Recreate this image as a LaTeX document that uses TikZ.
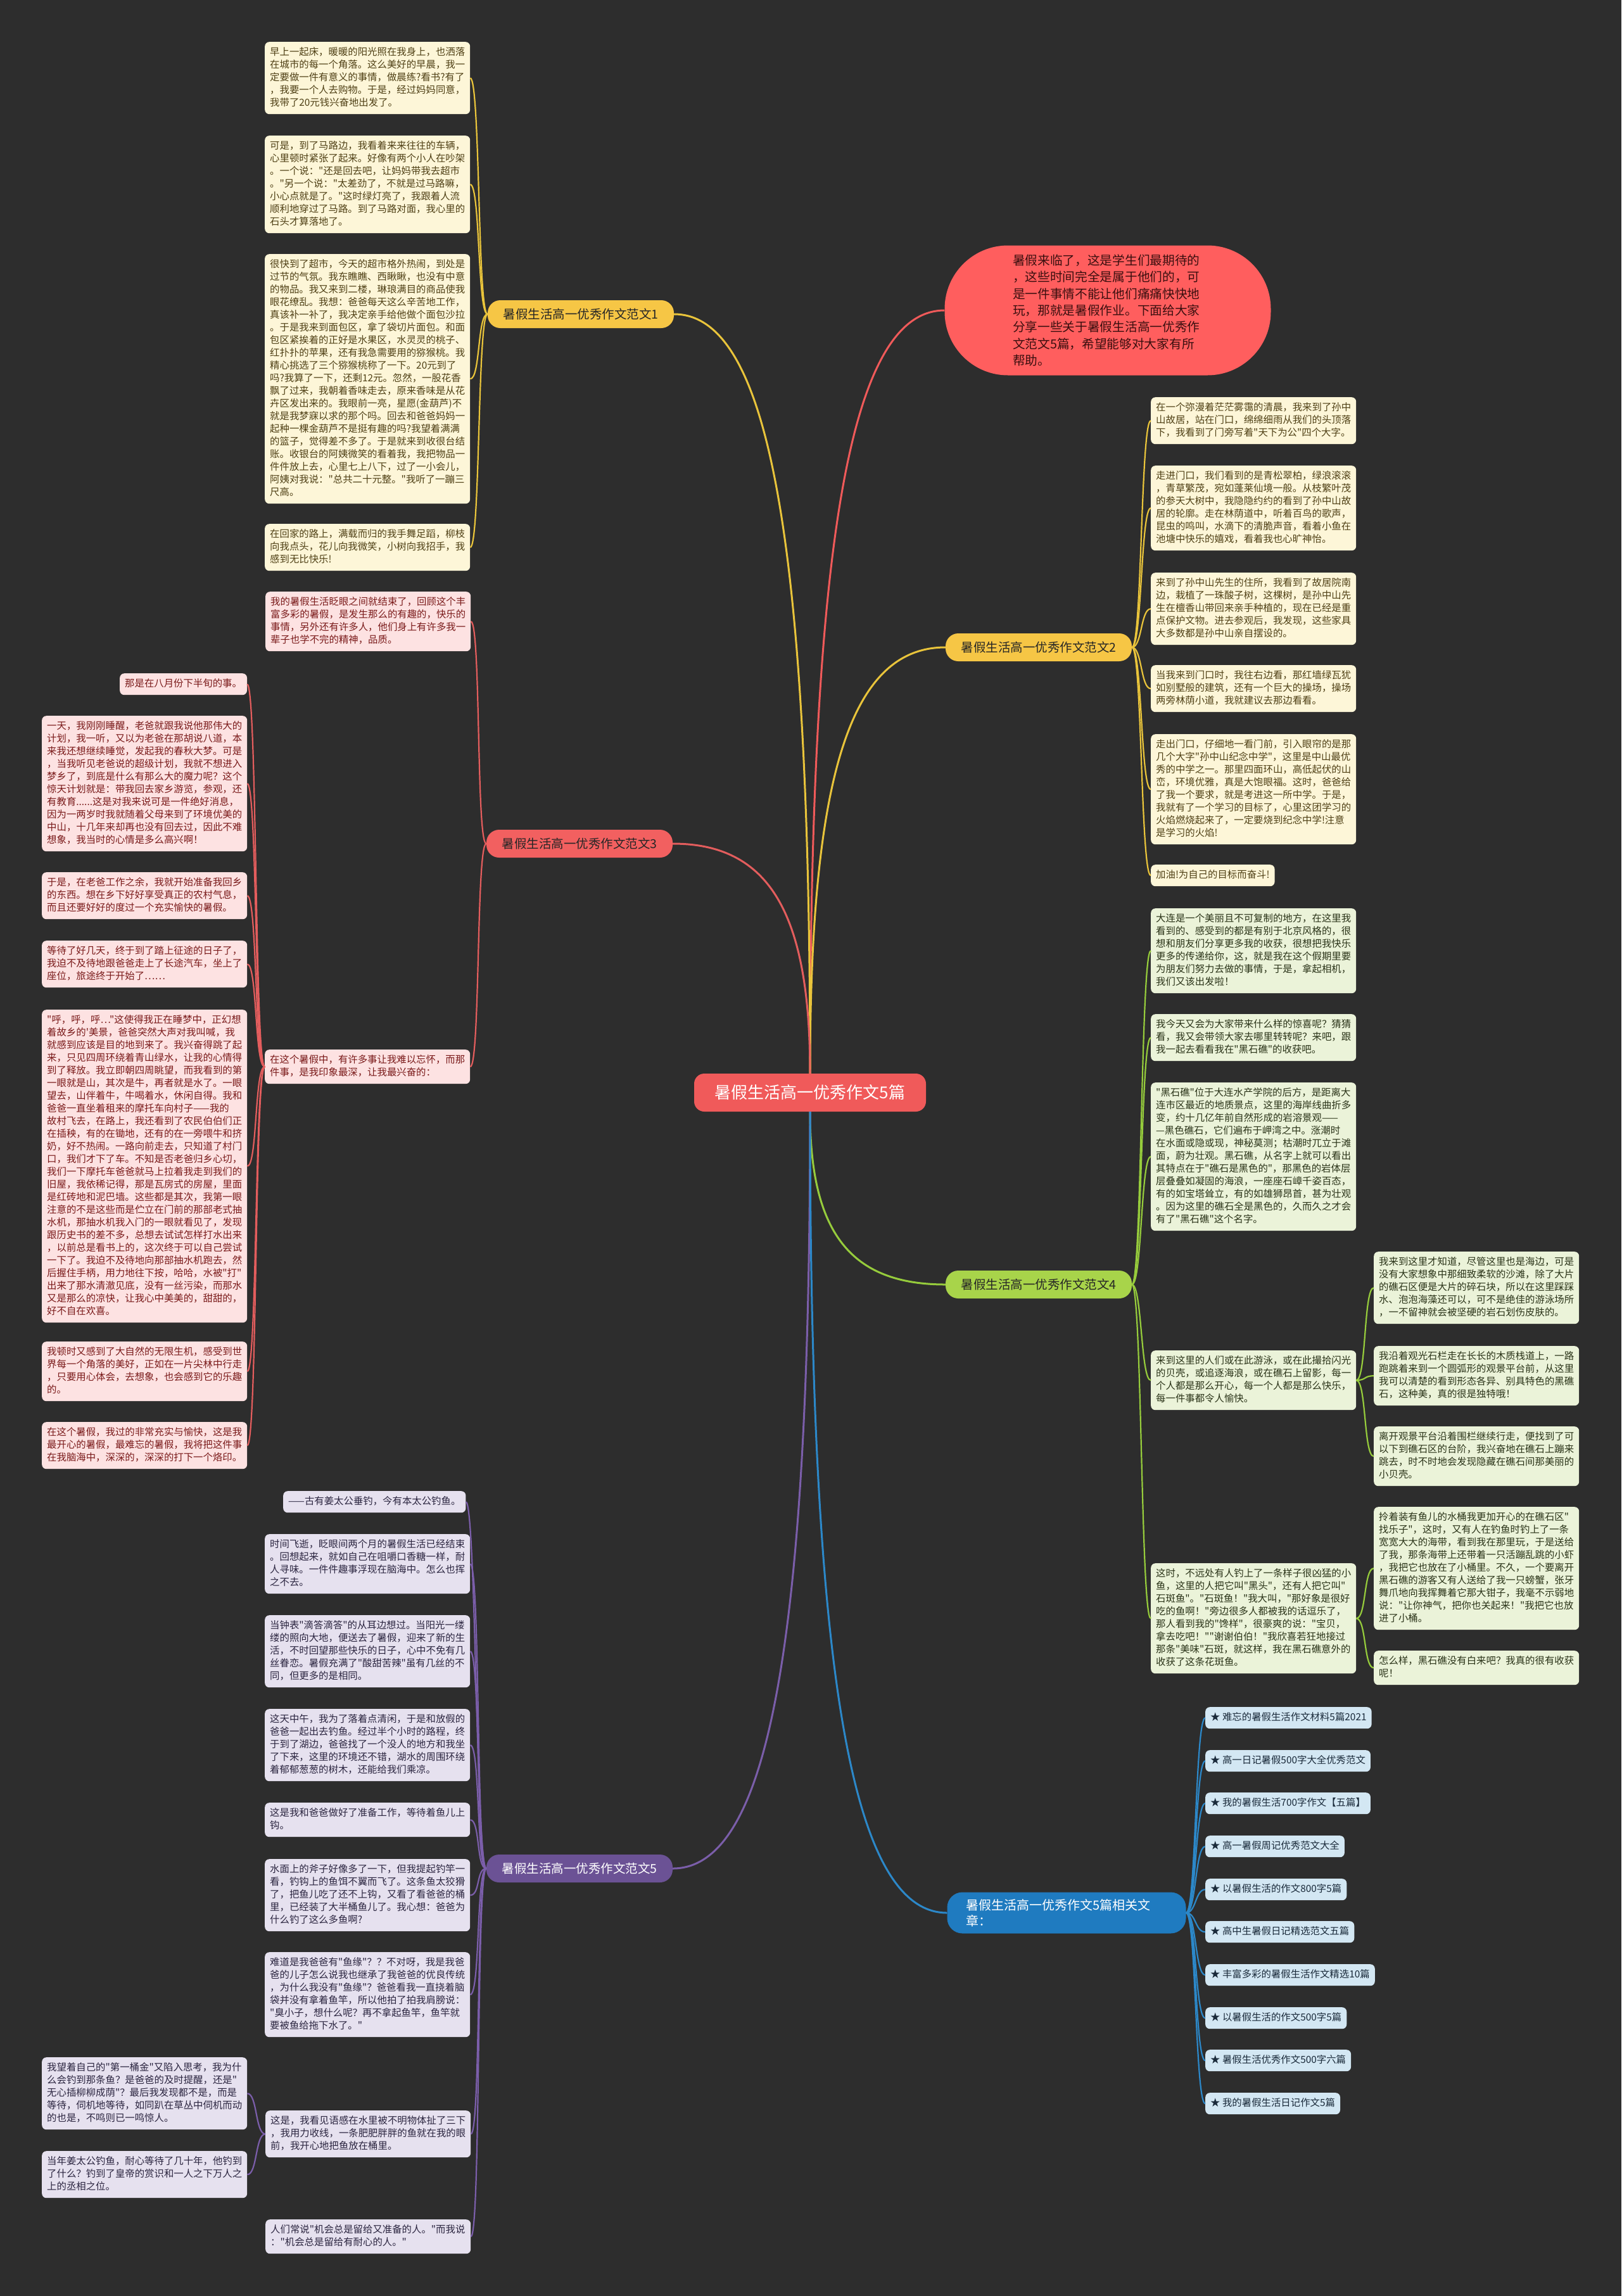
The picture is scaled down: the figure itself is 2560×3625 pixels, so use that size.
\documentclass[tikz,border=0pt]{standalone}
\usepackage{fontspec}
\newfontfamily\cjk{Noto Sans CJK SC}
\usetikzlibrary{calc}
\definecolor{bg}{HTML}{2D2D2D}
\definecolor{ctrFill}{HTML}{F05A5A}
\definecolor{introFill}{HTML}{FF5E5E}
\definecolor{introText}{HTML}{3A0F0F}
\definecolor{ylMain}{HTML}{F6C645}
\definecolor{ylLeaf}{HTML}{FDF6D8}
\definecolor{ylText}{HTML}{4F4015}
\definecolor{ylLine}{HTML}{E9C43B}
\definecolor{rdMain}{HTML}{F26060}
\definecolor{rdLeaf}{HTML}{FDE2E2}
\definecolor{rdText}{HTML}{7A1A1A}
\definecolor{rdLine}{HTML}{E35D5D}
\definecolor{grMain}{HTML}{A8D44A}
\definecolor{grLeaf}{HTML}{EBF3D9}
\definecolor{grText}{HTML}{2A3318}
\definecolor{grLine}{HTML}{96CC3C}
\definecolor{puMain}{HTML}{6B5295}
\definecolor{puLeaf}{HTML}{E6E1EF}
\definecolor{puText}{HTML}{2B2540}
\definecolor{puLine}{HTML}{7B5EAA}
\definecolor{blMain}{HTML}{1F7BC0}
\definecolor{blLeaf}{HTML}{D3E7F3}
\definecolor{blText}{HTML}{1A2A3A}
\definecolor{blLine}{HTML}{2C88C9}
\newcommand\sst{\rule[-5.5pt]{0pt}{20pt}}
\newcommand\LL[5]{\node[#4,anchor=north west] (#1) at (#2,#3) {\sst#5\sst};}
\newcommand\cnL[3]{\draw[#3] (#1.west) .. controls +(-16,0) and +(16,0) .. (#2.east);}
\newcommand\cnR[3]{\draw[#3] (#1.east) .. controls +(16,0) and +(-16,0) .. (#2.west);}
\newcommand\ctrC[3]{\draw[#3] (#1) .. controls ($(#1)!0.7!(#1 |- #2)$) and ($(#2)!0.7!(#1 |- #2)$) .. (#2);}
\begin{document}
\begin{tikzpicture}[x=1pt,y=-1pt,
  lf/.style={rounded corners=7pt, inner xsep=8pt, inner ysep=7pt, align=left, font=\cjk\fontsize{15.4}{20}\selectfont},
  wide/.style={text width=308pt},
  yl/.style={lf, fill=ylLeaf, text=ylText},
  rd/.style={lf, fill=rdLeaf, text=rdText},
  gr/.style={lf, fill=grLeaf, text=grText},
  pu/.style={lf, fill=puLeaf, text=puText},
  bl/.style={lf, fill=blLeaf, text=blText},
  branch/.style={rounded corners=20pt, minimum width=294pt, minimum height=44pt, inner sep=0pt, font=\cjk\fontsize{19.5}{24}\selectfont},
  lnk/.style={line width=2.2pt},
  mlnk/.style={line width=3pt},
]
\useasboundingbox (0,0) rectangle (2560,3625);
\fill[bg] (0,0) rectangle (2560,3625);

% center
\node[fill=ctrFill, text=white, rounded corners=16pt, minimum width=366pt, minimum height=60pt, inner sep=0pt, font=\cjk\fontsize{26}{30}\selectfont] (c) at (1279,1725) {暑假生活高一优秀作文5篇};

% intro
\node[fill=introFill, text=introText, rounded corners=100pt, minimum width=515pt, minimum height=205pt, text width=300pt, align=left, inner sep=0pt, font=\cjk\fontsize{19.7}{26.3}\selectfont] (intro) at (1749,490) {暑假来临了，这是学生们最期待的\\，这些时间完全是属于他们的，可\\是一件事情不能让他们痛痛快快地\\玩，那就是暑假作业。下面给大家\\分享一些关于暑假生活高一优秀作\\文范文5篇，希望能够对大家有所\\帮助。};

% branches
\node[branch, fill=ylMain, text=black!85] (b1) at (917,496) {暑假生活高一优秀作文范文1};
\node[branch, fill=ylMain, text=black!85] (b2) at (1640,1022) {暑假生活高一优秀作文范文2};
\node[branch, fill=rdMain, text=black!85] (b3) at (915,1332) {暑假生活高一优秀作文范文3};
\node[branch, fill=grMain, text=black!85] (b4) at (1640,2028) {暑假生活高一优秀作文范文4};
\node[branch, fill=puMain, text=white] (b5) at (915,2950) {暑假生活高一优秀作文范文5};
\node[fill=blMain, text=white, rounded corners=24pt, minimum width=377pt, minimum height=65pt, text width=317pt, inner xsep=30pt, inner ysep=6pt, align=left, font=\cjk\fontsize{20}{25}\selectfont] (rel) at (1684,3020) {暑假生活高一优秀作文5篇相关文\\章：};

% branch 1
\LL{a1}{418}{66}{yl,wide}{早上一起床，暖暖的阳光照在我身上，也洒落\\在城市的每一个角落。这么美好的早晨，我一\\定要做一件有意义的事情，做晨练?看书?有了\\，我要一个人去购物。于是，经过妈妈同意，\\我带了20元钱兴奋地出发了。}
\LL{a2}{418}{214}{yl,wide}{可是，到了马路边，我看着来来往往的车辆，\\心里顿时紧张了起来。好像有两个小人在吵架\\。一个说："还是回去吧，让妈妈带我去超市\\。"另一个说："太差劲了，不就是过马路嘛，\\小心点就是了。"这时绿灯亮了，我跟着人流\\顺利地穿过了马路。到了马路对面，我心里的\\石头才算落地了。}
\LL{a3}{418}{401}{yl,wide}{很快到了超市，今天的超市格外热闹，到处是\\过节的气氛。我东瞧瞧、西瞅瞅，也没有中意\\的物品。我又来到二楼，琳琅满目的商品使我\\眼花缭乱。我想：爸爸每天这么辛苦地工作，\\真该补一补了，我决定亲手给他做个面包沙拉\\。于是我来到面包区，拿了袋切片面包。和面\\包区紧挨着的正好是水果区，水灵灵的桃子、\\红扑扑的苹果，还有我急需要用的猕猴桃。我\\精心挑选了三个猕猴桃称了一下。20元到了\\吗?我算了一下，还剩12元。忽然，一股花香\\飘了过来，我朝着香味走去，原来香味是从花\\卉区发出来的。我眼前一亮，星愿(金葫芦)不\\就是我梦寐以求的那个吗。回去和爸爸妈妈一\\起种一棵金葫芦不是挺有趣的吗?我望着满满\\的篮子，觉得差不多了。于是就来到收很台结\\账。收银台的阿姨微笑的看着我，我把物品一\\件件放上去，心里七上八下，过了一小会儿，\\阿姨对我说："总共二十元整。"我听了一蹦三\\尺高。}
\LL{a4}{418}{827}{yl,wide}{在回家的路上，满载而归的我手舞足蹈，柳枝\\向我点头，花儿向我微笑，小树向我招手，我\\感到无比快乐!}

% branch 2
\LL{d1}{1817}{627}{yl,wide}{在一个弥漫着茫茫雾霭的清晨，我来到了孙中\\山故居，站在门口，绵绵细雨从我们的头顶落\\下，我看到了门旁写着"天下为公"四个大字。}
\LL{d2}{1817}{735}{yl,wide}{走进门口，我们看到的是青松翠柏，绿浪滚滚\\，青草繁茂，宛如蓬莱仙境一般。从枝繁叶茂\\的参天大树中，我隐隐约约的看到了孙中山故\\居的轮廓。走在林荫道中，听着百鸟的歌声，\\昆虫的鸣叫，水滴下的清脆声音，看着小鱼在\\池塘中快乐的嬉戏，看着我也心旷神怡。}
\LL{d3}{1817}{904}{yl,wide}{来到了孙中山先生的住所，我看到了故居院南\\边，栽植了一珠酸子树，这棵树，是孙中山先\\生在檀香山带回来亲手种植的，现在已经是重\\点保护文物。进去参观后，我发现，这些家具\\大多数都是孙中山亲自摆设的。}
\LL{d4}{1817}{1050}{yl,wide}{当我来到门口时，我往右边看，那红墙绿瓦犹\\如别墅般的建筑，还有一个巨大的操场，操场\\两旁林荫小道，我就建议去那边看看。}
\LL{d5}{1817}{1159}{yl,wide}{走出门口，仔细地一看门前，引入眼帘的是那\\几个大字"孙中山纪念中学"，这里是中山最优\\秀的中学之一。那里四面环山，高低起伏的山\\峦，环境优雅，真是大饱眼福。这时，爸爸给\\了我一个要求，就是考进这一所中学。于是，\\我就有了一个学习的目标了，心里这团学习的\\火焰燃烧起来了，一定要烧到纪念中学!注意\\是学习的火焰!}
\LL{d6}{1817}{1365}{yl}{加油!为自己的目标而奋斗!}

% branch 3
\LL{e1}{419}{934}{rd,wide}{我的暑假生活眨眼之间就结束了，回顾这个丰\\富多彩的暑假，是发生那么的有趣的，快乐的\\事情，另外还有许多人，他们身上有许多我一\\辈子也学不完的精神，品质。}
\LL{e2}{418}{1657}{rd,wide}{在这个暑假中，有许多事让我难以忘怀，而那\\件事，是我印象最深，让我最兴奋的：}
\LL{f1}{189}{1063}{rd}{那是在八月份下半旬的事。}
\LL{f2}{66}{1130}{rd,wide}{一天，我刚刚睡醒，老爸就跟我说他那伟大的\\计划，我一听，又以为老爸在那胡说八道，本\\来我还想继续睡觉，发起我的春秋大梦。可是\\，当我听见老爸说的超级计划，我就不想进入\\梦乡了，到底是什么有那么大的魔力呢？这个\\惊天计划就是：带我回去家乡游览，参观，还\\有教育......这是对我来说可是一件绝好消息，\\因为一两岁时我就随着父母来到了环境优美的\\中山，十几年来却再也没有回去过，因此不难\\想象，我当时的心情是多么高兴啊！}
\LL{f3}{66}{1377}{rd,wide}{于是，在老爸工作之余，我就开始准备我回乡\\的东西。想在乡下好好享受真正的农村气息，\\而且还要好好的度过一个充实愉快的暑假。}
\LL{f4}{66}{1485}{rd,wide}{等待了好几天，终于到了踏上征途的日子了，\\我迫不及待地跟爸爸走上了长途汽车，坐上了\\座位，旅途终于开始了……}
\LL{f5}{66}{1594}{rd,wide}{"呼，呼，呼…"这使得我正在睡梦中，正幻想\\着故乡的'美景，爸爸突然大声对我叫喊，我\\就感到应该是目的地到来了。我兴奋得跳了起\\来，只见四周环绕着青山绿水，让我的心情得\\到了释放。我立即朝四周眺望，而我看到的第\\一眼就是山，其次是牛，再者就是水了。一眼\\望去，山伴着牛，牛喝着水，休闲自得。我和\\爸爸一直坐着租来的摩托车向村子——我的\\故村飞去，在路上，我还看到了农民伯伯们正\\在插秧，有的在锄地，还有的在一旁喂牛和挤\\奶，好不热闹。一路向前走去，只知道了村门\\口，我们才下了车。不知是否老爸归乡心切，\\我们一下摩托车爸爸就马上拉着我走到我们的\\旧屋，我依稀记得，那是瓦房式的房屋，里面\\是红砖地和泥巴墙。这些都是其次，我第一眼\\注意的不是这些而是伫立在门前的那部老式抽\\水机，那抽水机我入门的一眼就看见了，发现\\跟历史书的差不多，总想去试试怎样打水出来\\，以前总是看书上的，这次终于可以自己尝试\\一下了。我迫不及待地向那部抽水机跑去，然\\后握住手柄，用力地往下按，哈哈，水被"打"\\出来了那水清澈见底，没有一丝污染，而那水\\又是那么的凉快，让我心中美美的，甜甜的，\\好不自在欢喜。}
\LL{f6}{66}{2118}{rd,wide}{我顿时又感到了大自然的无限生机，感受到世\\界每一个角落的美好，正如在一片尖林中行走\\，只要用心体会，去想象，也会感到它的乐趣\\的。}
\LL{f7}{66}{2245}{rd,wide}{在这个暑假，我过的非常充实与愉快，这是我\\最开心的暑假，最难忘的暑假，我将把这件事\\在我脑海中，深深的，深深的打下一个烙印。}

% branch 4
\LL{g1}{1817}{1434}{gr,wide}{大连是一个美丽且不可复制的地方，在这里我\\看到的、感受到的都是有别于北京风格的，很\\想和朋友们分享更多我的收获，很想把我快乐\\更多的传递给你，这，就是我在这个假期里要\\为朋友们努力去做的事情，于是，拿起相机，\\我们又该出发啦！}
\LL{g2}{1817}{1601}{gr,wide}{我今天又会为大家带来什么样的惊喜呢？猜猜\\看，我又会带领大家去哪里转转呢？来吧，跟\\我一起去看看我在"黑石礁"的收获吧。}
\LL{g3}{1817}{1709}{gr,wide}{"黑石礁"位于大连水产学院的后方，是距离大\\连市区最近的地质景点，这里的海岸线曲折多\\变，约十几亿年前自然形成的岩溶景观——\\—黑色礁石，它们遍布于岬湾之中。涨潮时\\在水面或隐或现，神秘莫测；枯潮时兀立于滩\\面，蔚为壮观。黑石礁，从名字上就可以看出\\其特点在于"礁石是黑色的"，那黑色的岩体层\\层叠叠如凝固的海浪，一座座石嶂千姿百态，\\有的如宝塔耸立，有的如雄狮昂首，甚为壮观\\。因为这里的礁石全是黑色的，久而久之才会\\有了"黑石礁"这个名字。}
\LL{g4}{1817}{2132}{gr,wide}{来到这里的人们或在此游泳，或在此撮拾闪光\\的贝壳，或追逐海浪，或在礁石上留影，每一\\个人都是那么开心，每一个人都是那么快乐，\\每一件事都令人愉快。}
\LL{g5}{1817}{2468}{gr,wide}{这时，不远处有人钓上了一条样子很凶猛的小\\鱼，这里的人把它叫"黑头"，还有人把它叫"\\石斑鱼"。"石斑鱼！"我大叫，"那好象是很好\\吃的鱼啊！"旁边很多人都被我的话逗乐了，\\那人看到我的"馋样"，很豪爽的说："宝贝，\\拿去吃吧！""谢谢伯伯！"我欣喜若狂地接过\\那条"美味"石斑，就这样，我在黑石礁意外的\\收获了这条花斑鱼。}
\LL{h1}{2169}{1976}{gr,wide}{我来到这里才知道，尽管这里也是海边，可是\\没有大家想象中那细致柔软的沙滩，除了大片\\的礁石区便是大片的碎石块，所以在这里踩踩\\水、泡泡海藻还可以，可不是绝佳的游泳场所\\，一不留神就会被坚硬的岩石划伤皮肤的。}
\LL{h2}{2169}{2125}{gr,wide}{我沿着观光石栏走在长长的木质栈道上，一路\\跑跳着来到一个圆弧形的观景平台前，从这里\\我可以清楚的看到形态各异、别具特色的黑礁\\石，这种美，真的很是独特哦！}
\LL{h3}{2169}{2252}{gr,wide}{离开观景平台沿着围栏继续行走，便找到了可\\以下到礁石区的台阶，我兴奋地在礁石上蹦来\\跳去，时不时地会发现隐藏在礁石间那美丽的\\小贝壳。}
\LL{h4}{2169}{2379}{gr,wide}{拎着装有鱼儿的水桶我更加开心的在礁石区"\\找乐子"，这时，又有人在钓鱼时钓上了一条\\宽宽大大的海带，看到我在那里玩，于是送给\\了我，那条海带上还带着一只活蹦乱跳的小虾\\，我把它也放在了小桶里。不久，一个要离开\\黑石礁的游客又有人送给了我一只螃蟹，张牙\\舞爪地向我挥舞着它那大钳子，我毫不示弱地\\说："让你神气，把你也关起来！"我把它也放\\进了小桶。}
\LL{h5}{2169}{2606}{gr,wide}{怎么样，黑石礁没有白来吧？我真的很有收获\\呢！}

% branch 5
\LL{p1}{447}{2354}{pu}{——古有姜太公垂钓，今有本太公钓鱼。}
\LL{p2}{418}{2422}{pu,wide}{时间飞逝，眨眼间两个月的暑假生活已经结束\\。回想起来，就如自己在咀嚼口香糖一样，耐\\人寻味。一件件趣事浮现在脑海中。怎么也挥\\之不去。}
\LL{p3}{418}{2550}{pu,wide}{当钟表"滴答滴答"的从耳边想过。当阳光一缕\\缕的照向大地，便送去了暑假，迎来了新的生\\活，不时回望那些快乐的日子，心中不免有几\\丝眷恋。暑假充满了"酸甜苦辣"虽有几丝的不\\同，但更多的是相同。}
\LL{p4}{418}{2698}{pu,wide}{这天中午，我为了落着点清闲，于是和放假的\\爸爸一起出去钓鱼。经过半个小时的路程，终\\于到了湖边，爸爸找了一个没人的地方和我坐\\了下来，这里的环境还不错，湖水的周围环绕\\着郁郁葱葱的树木，还能给我们乘凉。}
\LL{p5}{418}{2846}{pu,wide}{这是我和爸爸做好了准备工作，等待着鱼儿上\\钩。}
\LL{p6}{418}{2935}{pu,wide}{水面上的斧子好像多了一下，但我提起钓竿一\\看，钓钩上的鱼饵不翼而飞了。这条鱼太狡猾\\了，把鱼儿吃了还不上钩，又看了看爸爸的桶\\里，已经装了大半桶鱼儿了。我心想：爸爸为\\什么钓了这么多鱼啊?}
\LL{p7}{418}{3082}{pu,wide}{难道是我爸爸有"鱼缘"？？不对呀，我是我爸\\爸的儿子怎么说我也继承了我爸爸的优良传统\\，为什么我没有"鱼缘"？爸爸看我一直挠着脑\\袋并没有拿着鱼竿，所以他拍了拍我肩膀说：\\"臭小子，想什么呢？再不拿起鱼竿，鱼竿就\\要被鱼给拖下水了。"}
\LL{p8}{419}{3332}{pu,wide}{这是，我看见语感在水里被不明物体扯了三下\\，我用力收线，一条肥肥胖胖的鱼就在我的眼\\前，我开心地把鱼放在桶里。}
\LL{p9}{419}{3504}{pu,wide}{人们常说"机会总是留给又准备的人。"而我说\\："机会总是留给有耐心的人。"}
\LL{q1}{66}{3248}{pu,wide}{我望着自己的"第一桶金"又陷入思考，我为什\\么会钓到那条鱼？是爸爸的及时提醒，还是"\\无心插柳柳成荫"？最后我发现都不是，而是\\等待，伺机地等待，如同趴在草丛中伺机而动\\的也是，不鸣则已一鸣惊人。}
\LL{q2}{66}{3396}{pu,wide}{当年姜太公钓鱼，耐心等待了几十年，他钓到\\了什么？钓到了皇帝的赏识和一人之下万人之\\上的丞相之位。}

% related
\LL{r1}{1903}{2695}{bl}{★ 难忘的暑假生活作文材料5篇2021}
\LL{r2}{1903}{2763}{bl}{★ 高一日记暑假500字大全优秀范文}
\LL{r3}{1903}{2830}{bl}{★ 我的暑假生活700字作文【五篇】}
\LL{r4}{1903}{2898}{bl}{★ 高一暑假周记优秀范文大全}
\LL{r5}{1903}{2966}{bl}{★ 以暑假生活的作文800字5篇}
\LL{r6}{1903}{3033}{bl}{★ 高中生暑假日记精选范文五篇}
\LL{r7}{1903}{3101}{bl}{★ 丰富多彩的暑假生活作文精选10篇}
\LL{r8}{1903}{3169}{bl}{★ 以暑假生活的作文500字5篇}
\LL{r9}{1903}{3236}{bl}{★ 暑假生活优秀作文500字六篇}
\LL{r10}{1903}{3304}{bl}{★ 我的暑假生活日记作文5篇}

% center connectors
\ctrC{c.north}{intro.west}{mlnk,draw=ctrFill}
\ctrC{c.north}{b1.east}{mlnk,draw=ylLine}
\ctrC{c.north}{b2.west}{mlnk,draw=ylLine}
\ctrC{c.north}{b3.east}{mlnk,draw=rdLine}
\ctrC{c.south}{b4.west}{mlnk,draw=grLine}
\ctrC{c.south}{b5.east}{mlnk,draw=puLine}
\ctrC{c.south}{rel.west}{mlnk,draw=blLine}

% branch connectors
\foreach \n in {a1,a2,a3,a4}{\cnL{b1}{\n}{lnk,draw=ylLine}}
\foreach \n in {d1,d2,d3,d4,d5,d6}{\cnR{b2}{\n}{lnk,draw=ylLine}}
\foreach \n in {e1,e2}{\cnL{b3}{\n}{lnk,draw=rdLine}}
\foreach \n in {f1,f2,f3,f4,f5,f6,f7}{\cnL{e2}{\n}{lnk,draw=rdLine}}
\foreach \n in {g1,g2,g3,g4,g5}{\cnR{b4}{\n}{lnk,draw=grLine}}
\foreach \n in {h1,h2,h3}{\cnR{g4}{\n}{lnk,draw=grLine}}
\foreach \n in {h4,h5}{\cnR{g5}{\n}{lnk,draw=grLine}}
\foreach \n in {p1,p2,p3,p4,p5,p6,p7,p8,p9}{\cnL{b5}{\n}{lnk,draw=puLine}}
\foreach \n in {q1,q2}{\cnL{p8}{\n}{lnk,draw=puLine}}
\foreach \n in {r1,r2,r3,r4,r5,r6,r7,r8,r9,r10}{\cnR{rel}{\n}{lnk,draw=blLine}}
\end{tikzpicture}
\end{document}
